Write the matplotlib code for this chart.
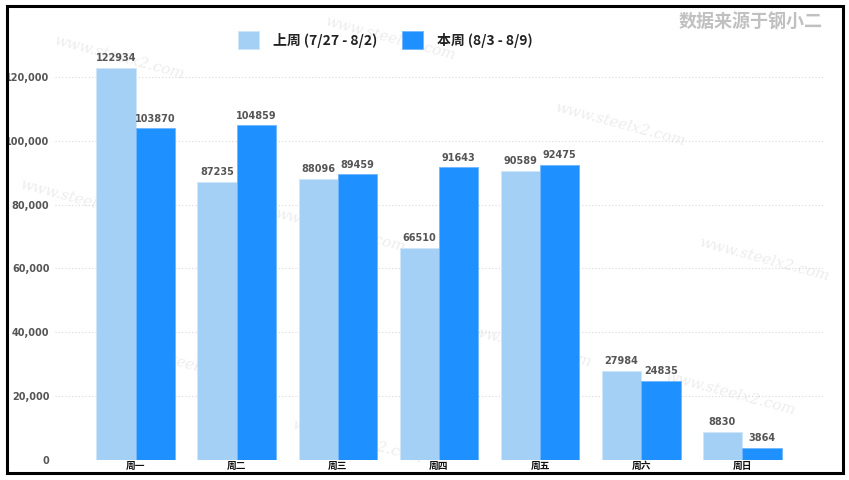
import matplotlib
matplotlib.use('Agg')
import matplotlib.pyplot as plt
from matplotlib.patches import Rectangle
import numpy as np

plt.rcParams['font.family'] = ['Noto Sans CJK SC', 'DejaVu Sans']

days = ['周一', '周二', '周三', '周四', '周五', '周六', '周日']
last_week = [122934, 87235, 88096, 66510, 90589, 27984, 8830]
this_week = [103870, 104859, 89459, 91643, 92475, 24835, 3864]
label_last = '上周 (7/27 - 8/2)'
label_this = '本周 (8/3 - 8/9)'
yticks = [0, 20000, 40000, 60000, 80000, 100000, 120000]

W, H = 849, 480
fig = plt.figure(figsize=(W / 100, H / 100), dpi=100)

# axes placed by pixel box: left 55, right 823, top 61, bottom 460
ax = fig.add_axes([55 / W, 1 - 460 / H, (823 - 55) / W, (460 - 61) / H])
ax.set_zorder(1)

x = np.arange(len(days))
bw = 0.39
light = '#A3D0F4'
dark = '#1E90FF'

# faint watermarks, behind the bars
for wx, wy in [(0.14, 0.88), (0.46, 0.92), (0.73, 0.74), (0.10, 0.58), (0.40, 0.52),
               (0.62, 0.28), (0.90, 0.46), (0.22, 0.24), (0.86, 0.18), (0.42, 0.08)]:
    fig.text(wx, wy, 'www.steelx2.com', rotation=-15, color='#ededed',
             fontsize=11, fontstyle='italic', family='DejaVu Serif',
             ha='center', va='center', zorder=-1)

ax.bar(x - bw / 2, last_week, bw, color=light, edgecolor='#cfe6fa', linewidth=0.6,
       label=label_last, zorder=3)
ax.bar(x + bw / 2, this_week, bw, color=dark, edgecolor='#6fb6ff', linewidth=0.6,
       label=label_this, zorder=3)

for xi, v in zip(x - bw / 2, last_week):
    ax.text(xi, v + 1500, str(v), ha='center', va='bottom', fontsize=7,
            fontweight='bold', color='#555555', family='DejaVu Sans', zorder=4)
for xi, v in zip(x + bw / 2, this_week):
    ax.text(xi, v + 1500, str(v), ha='center', va='bottom', fontsize=7,
            fontweight='bold', color='#555555', family='DejaVu Sans', zorder=4)

ax.set_xlim(-0.8, len(days) - 0.2)
ax.set_ylim(0, 125000)
ax.set_yticks(yticks)
ax.set_yticklabels([f'{t:,}' for t in yticks], fontsize=7, fontweight='bold',
                   color='#555555', family='DejaVu Sans')
ax.set_xticks(x)
ax.set_xticklabels(days, fontsize=7, fontweight='heavy', color='#111111')
ax.tick_params(axis='both', length=0)
ax.tick_params(axis='x', pad=1)
ax.tick_params(axis='y', pad=4)
ax.yaxis.grid(True, linestyle=(0, (1, 2)), color='#d8d8d8', linewidth=0.8, zorder=0)
for s in ax.spines.values():
    s.set_visible(False)
ax.patch.set_alpha(0)

leg = fig.legend(loc='center', bbox_to_anchor=(385 / W, 1 - 40 / H), ncol=2,
                 frameon=False, handlelength=1.5, handleheight=1.6,
                 columnspacing=1.8, handletextpad=1.0,
                 prop={'size': 10, 'weight': 'bold'})
for t in leg.get_texts():
    t.set_color('#222222')

fig.text(823 / W, 1 - 22 / H, '数据来源于钢小二', ha='right', va='center',
         fontsize=13, fontweight='bold', color='#c0c0c0')

fig.patches.append(Rectangle((7 / W, 1 - 473 / H), (843 - 7) / W, (473 - 6) / H,
                             transform=fig.transFigure, fill=False,
                             edgecolor='black', linewidth=2.2, zorder=10))

fig.savefig('out.png', dpi=100)
